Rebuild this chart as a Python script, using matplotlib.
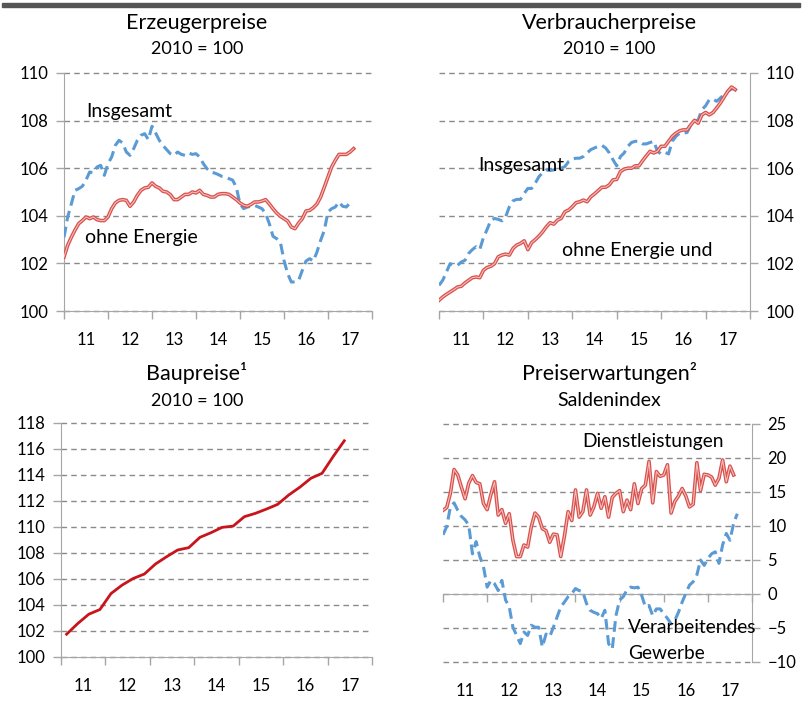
import matplotlib.pyplot as plt
import matplotlib.patches as mpatches
import numpy as np

plt.rcParams['font.family'] = ['Lato', 'DejaVu Sans']

# Erzeugerpreise, monthly from Jan 2011
erz_ohne = [102.27, 102.76, 103.1, 103.4, 103.67, 103.8, 103.95, 103.88, 103.95, 103.84, 103.8, 103.8,
            103.95, 104.3, 104.54, 104.65, 104.68, 104.65, 104.4, 104.58, 104.86, 105.07, 105.17, 105.2,
            105.38, 105.24, 105.17, 105.03, 105.0, 104.89, 104.68, 104.68, 104.79, 104.9, 104.9, 105.0,
            104.96, 105.07, 104.9, 104.86, 104.79, 104.79, 104.9, 104.93, 104.93, 104.9, 104.79, 104.68,
            104.54, 104.44, 104.4, 104.48, 104.58, 104.58, 104.62, 104.68, 104.5, 104.3, 104.12, 103.98,
            103.88, 103.78, 103.53, 103.46, 103.7, 103.88, 104.2, 104.23, 104.34, 104.5, 104.79, 105.2,
            105.63, 106.05, 106.33, 106.58, 106.58, 106.58, 106.68, 106.82]
erz_ges = [103.1, 103.95, 104.5, 105.07, 105.14, 105.24, 105.5, 105.84, 105.8, 106.05, 106.12, 105.7,
           106.19, 106.47, 106.96, 107.17, 107.06, 106.68, 106.54, 106.82, 107.17, 107.38, 107.45, 107.2,
           107.76, 107.48, 107.17, 106.96, 106.78, 106.61, 106.54, 106.68, 106.58, 106.54, 106.64, 106.58,
           106.61, 106.47, 106.19, 105.98, 105.84, 105.8, 105.74, 105.66, 105.63, 105.56, 105.5, 105.2,
           104.5, 104.3, 104.37, 104.4, 104.44, 104.37, 104.3, 104.09, 103.67, 103.14, 103.04, 102.9,
           102.13, 101.57, 101.22, 101.22, 101.29, 101.71, 102.1, 102.2, 102.1, 102.48, 102.97, 103.39,
           104.16, 104.3, 104.37, 104.58, 104.4, 104.37, 104.54, 104.58]

# Verbraucherpreise, monthly from Jan 2011
vpi_ohne = [100.45, 100.59, 100.7, 100.8, 100.9, 101.01, 101.04, 101.18, 101.29, 101.4, 101.43, 101.4,
            101.71, 101.83, 101.88, 101.99, 102.28, 102.35, 102.39, 102.35, 102.63, 102.77, 102.84, 102.95,
            102.58, 102.87, 103.0, 103.15, 103.33, 103.54, 103.71, 103.65, 103.82, 103.89, 104.17, 104.24,
            104.38, 104.55, 104.59, 104.66, 104.59, 104.8, 104.92, 105.06, 105.2, 105.2, 105.3, 105.51,
            105.53, 105.86, 105.96, 106.0, 106.0, 106.1, 106.1, 106.32, 106.52, 106.71, 106.64, 106.71,
            106.92, 106.92, 107.13, 107.34, 107.47, 107.57, 107.61, 107.61, 107.82, 108.01, 107.89, 108.24,
            108.34, 108.24, 108.34, 108.53, 108.74, 108.99, 109.23, 109.41, 109.3]
vpi_ges = [101.08, 101.29, 101.64, 101.99, 101.92, 101.92, 102.06, 102.13, 102.42, 102.58, 102.7, 102.58,
           103.09, 103.43, 103.82, 103.89, 103.85, 103.79, 103.96, 104.38, 104.63, 104.69, 104.69, 104.94,
           105.15, 105.15, 105.37, 105.65, 105.81, 105.93, 105.9, 105.93, 106.0, 106.0, 106.07, 106.28,
           106.38, 106.42, 106.42, 106.49, 106.64, 106.78, 106.85, 106.92, 106.96, 106.85, 106.64, 106.35,
           106.1, 106.49, 106.64, 106.92, 107.08, 107.13, 107.13, 107.02, 107.02, 107.08, 107.13, 106.71,
           106.6, 106.67, 106.6, 107.13, 107.34, 107.47, 107.47, 107.5, 107.82, 107.96, 108.03, 108.46,
           108.62, 108.88, 108.9, 108.81, 108.95, 109.09, 109.23, 109.33, 109.33]

# Baupreise, quarterly from 2011 Q1
bau = [101.75, 102.57, 103.29, 103.65, 104.88, 105.53, 106.04, 106.38, 107.15, 107.71, 108.23, 108.41,
       109.2, 109.56, 109.97, 110.07, 110.79, 111.05, 111.38, 111.74, 112.46, 113.06, 113.75, 114.13,
       115.42, 116.63]

# Preiserwartungen, monthly from Jan 2011
dienst = [12.3, 12.7, 14.8, 18.3, 17.5, 15.7, 14.0, 16.3, 17.4, 16.4, 16.2, 13.3,
          12.4, 14.6, 16.5, 11.6, 12.4, 10.4, 11.8, 7.9, 5.5, 5.5, 7.2, 6.9,
          9.9, 11.9, 11.3, 9.6, 9.3, 7.6, 8.8, 8.7, 5.5, 8.5, 12.1, 10.8,
          15.3, 11.3, 12.1, 15.3, 11.6, 12.8, 14.8, 12.6, 14.3, 11.3, 14.2, 14.8,
          15.2, 12.1, 13.8, 12.4, 16.2, 13.3, 15.5, 16.0, 19.5, 13.4, 18.0, 17.3,
          17.5, 19.0, 11.9, 13.6, 14.4, 15.5, 14.4, 12.8, 13.2, 19.3, 15.2, 17.6,
          17.5, 17.2, 16.0, 17.0, 19.7, 16.5, 18.8, 17.5]
gewerbe = [8.7, 9.9, 12.8, 13.4, 12.3, 11.4, 10.9, 10.1, 5.9, 7.7, 5.5, 4.0,
           1.0, 2.0, 1.5, 0.5, 2.0, -0.9, -1.9, -4.9, -6.1, -7.3, -5.6, -6.1,
           -4.6, -4.9, -4.9, -7.8, -5.9, -6.3, -4.9, -3.4, -1.9, -1.2, -0.4, 0.05,
           0.8, 0.5, 0.3, -1.4, -2.4, -2.7, -2.9, -3.6, -2.4, -7.3, -8.1, -3.2,
           -0.9, -0.4, 0.6, 1.0, 0.9, 1.0, -0.2, -1.9, -1.7, -3.2, -2.2, -2.2,
           -2.9, -3.6, -4.4, -3.9, -2.7, -1.2, 0.1, 1.3, 1.8, 2.8, 5.0, 4.2,
           5.2, 5.9, 6.2, 4.5, 7.2, 8.9, 7.9, 10.4, 11.8]

years = list(range(2011, 2019))
year_labels = ['11', '12', '13', '14', '15', '16', '17']

BLUE = '#5b9bd5'
RED_OUT = '#d9504c'
RED_IN = '#f3c0bc'
RED_BAU = '#c8141b'
GRID = '#8a8a8a'
AXC = '#a6a6a6'


def monthly(vals):
    return 2011 + np.arange(len(vals)) / 12.0


def setup(ax, ylim, yticks, side):
    ax.set_xlim(2011, 2018)
    ax.set_ylim(*ylim)
    ax.set_yticks(yticks)
    ax.set_xticks(years)
    ax.tick_params(labelbottom=False)
    for s in ['top', 'left', 'right']:
        ax.spines[s].set_visible(False)
    ax.spines[side].set_visible(True)
    ax.spines[side].set_color(AXC)
    ax.spines['bottom'].set_color(AXC)
    ax.tick_params(axis='both', color=AXC, length=6, width=1, labelsize=12)
    if side == 'right':
        ax.yaxis.tick_right()
    ax.tick_params(axis='y', pad=5)
    ax.yaxis.grid(True, color=GRID, linestyle=(0, (4, 3)), linewidth=1)
    for gl in ax.get_ygridlines():
        gl.set_clip_on(False)
    ax.set_axisbelow(True)
    for yr, lab in zip(years[:-1], year_labels):
        ax.annotate(lab, xy=(yr + 0.5, 0), xycoords=('data', 'axes fraction'),
                    xytext=(0, -21), textcoords='offset points',
                    ha='center', va='center', fontsize=12)


def double_line(ax, x, y):
    ax.plot(x, y, color=RED_OUT, lw=2.6, solid_joinstyle='round', zorder=3)
    ax.plot(x, y, color=RED_IN, lw=0.8, solid_joinstyle='round', zorder=4)


fig = plt.figure(figsize=(8.02, 7.01), dpi=100)
fig.patches.append(mpatches.Rectangle((0.002, 1 - 6.5 / 701), 0.996, 3.5 / 701,
                                      transform=fig.transFigure, color='#555555'))

# Panel 1
ax1 = fig.add_axes([0.0798, 0.5563, 0.384, 0.3396])
setup(ax1, (100, 110), [100, 102, 104, 106, 108, 110], 'left')
ax1.plot(monthly(erz_ges), erz_ges, color=BLUE, lw=2.2, linestyle=(0, (3.5, 1.8)), zorder=3)
double_line(ax1, monthly(erz_ohne), erz_ohne)
ax1.text(2011.5, 108.4, 'Insgesamt', fontsize=14, va='center')
ax1.text(2011.47, 103.1, 'ohne Energie', fontsize=14, va='center')
fig.text(197 / 802, 1 - 23 / 701, 'Erzeugerpreise', fontsize=15.5, ha='center', va='center')
fig.text(197 / 802, 1 - 49 / 701, '2010 = 100', fontsize=13, ha='center', va='center')

# Panel 2
ax2 = fig.add_axes([0.5474, 0.5563, 0.3878, 0.3396])
setup(ax2, (100, 110), [100, 102, 104, 106, 108, 110], 'right')
ax2.plot(monthly(vpi_ges), vpi_ges, color=BLUE, lw=2.2, linestyle=(0, (3.5, 1.8)), zorder=3)
double_line(ax2, monthly(vpi_ohne), vpi_ohne)
ax2.text(2011.88, 106.1, 'Insgesamt', fontsize=14, va='center', zorder=5)
ax2.text(2013.77, 102.55, 'ohne Energie und', fontsize=14, va='center')
fig.text(609 / 802, 1 - 23 / 701, 'Verbraucherpreise', fontsize=15.5, ha='center', va='center')
fig.text(609 / 802, 1 - 49 / 701, '2010 = 100', fontsize=13, ha='center', va='center')

# Panel 3
ax3 = fig.add_axes([0.0761, 0.0628, 0.3878, 0.3338])
setup(ax3, (100, 118), list(range(100, 119, 2)), 'left')
xq = 2011 + (np.arange(len(bau)) + 0.5) / 4.0
ax3.plot(xq, bau, color=RED_BAU, lw=2, zorder=3)
fig.text(197 / 802, 1 - 373 / 701, 'Baupreise¹', fontsize=15.5, ha='center', va='center')
fig.text(197 / 802, 1 - 401 / 701, '2010 = 100', fontsize=13, ha='center', va='center')

# Panel 4
ax4 = fig.add_axes([0.5524, 0.0557, 0.3853, 0.3395])
setup(ax4, (-10, 25), [-10, -5, 0, 5, 10, 15, 20, 25], 'right')
ax4.spines['bottom'].set_position(('data', 0))
ax4.plot(monthly(gewerbe), gewerbe, color=BLUE, lw=2.2, linestyle=(0, (3.5, 1.8)), zorder=3)
double_line(ax4, monthly(dienst), dienst)
ax4.text(2014.15, 22.4, 'Dienstleistungen', fontsize=13.8, va='center')
ax4.text(2015.2, -4.9, 'Verarbeitendes', fontsize=13.8, va='center', zorder=5)
ax4.text(2015.2, -8.7, 'Gewerbe', fontsize=13.8, va='center', zorder=5)
fig.text(609 / 802, 1 - 373 / 701, 'Preiserwartungen²', fontsize=15.5, ha='center', va='center')
fig.text(609 / 802, 1 - 400 / 701, 'Saldenindex', fontsize=14, ha='center', va='center')

fig.savefig('out.png', dpi=100)
